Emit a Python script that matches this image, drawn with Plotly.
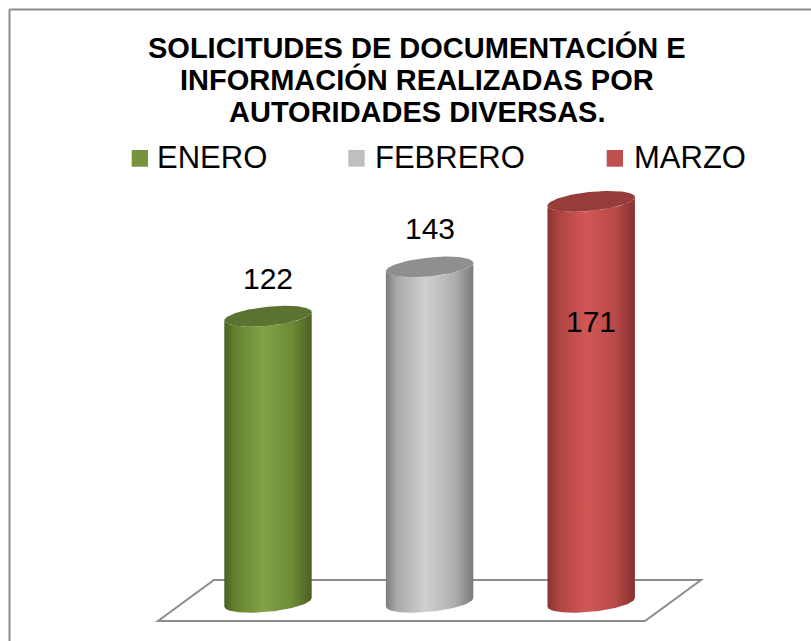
import numpy as np
import plotly.graph_objects as go

# ---- data ----
categories = ["ENERO", "FEBRERO", "MARZO"]
values = [122, 143, 171]
title_lines = ["SOLICITUDES DE DOCUMENTACIÓN E",
               "INFORMACIÓN REALIZADAS POR",
               "AUTORIDADES DIVERSAS."]

# ---- styles ----
legend_colors = ["#77933C", "#BFBFBF", "#C0504D"]
body_scales = [
    [[0, "#4b6024"], [0.12, "#64802f"], [0.45, "#84a347"], [0.78, "#6d8a36"], [1, "#4b6024"]],
    [[0, "#7c7c7c"], [0.12, "#a8a8a8"], [0.45, "#d0d0d0"], [0.78, "#b0b0b0"], [1, "#7a7a7a"]],
    [[0, "#883230"], [0.12, "#ac4442"], [0.45, "#d25755"], [0.78, "#b74a48"], [1, "#863130"]],
]
top_colors = ["#5a7330", "#8f8f8f", "#963c3a"]

W, H = 811, 641
# pixel anchors of the category scale / value scale
X0_PX, DX_PX = 268.0, 161.6      # pixel of first category, pixel per category
Y0_PX, DY_PX = 602.3, 2.345      # pixel of value 0, pixel per unit

def px_to_x(px):
    return (px - X0_PX) / DX_PX

def py_to_y(py):
    return (Y0_PX - py) / DY_PX

A = 43.7 / DX_PX   # cylinder radius (x units)
B = 9.5 / DY_PX    # ellipse half-height (y units)
K = 4.2 / DY_PX    # ellipse tilt (y units)

fig = go.Figure()

n = 80
for i, (cat, v) in enumerate(zip(categories, values)):
    tb = np.linspace(np.pi, 2 * np.pi, n)
    tt = np.linspace(2 * np.pi, np.pi, n)
    xs = np.concatenate([i + A * np.cos(tb), i + A * np.cos(tt)])
    ys = np.concatenate([B * np.sin(tb) + K * np.cos(tb),
                         v + B * np.sin(tt) + K * np.cos(tt)])
    fig.add_trace(go.Scatter(
        x=xs, y=ys, mode="lines", fill="toself",
        line=dict(width=0, color=legend_colors[i]),
        fillgradient=dict(type="horizontal", colorscale=body_scales[i]),
        name=cat, showlegend=False, hoverinfo="skip"))
    tc = np.linspace(0, 2 * np.pi, 2 * n)
    fig.add_trace(go.Scatter(
        x=i + A * np.cos(tc), y=v + B * np.sin(tc) + K * np.cos(tc),
        mode="lines", fill="toself",
        line=dict(width=0, color=top_colors[i]), fillcolor=top_colors[i],
        showlegend=False, hoverinfo="skip"))

# value labels
label_shift = [38, 38, -120]
for i, v in enumerate(values):
    fig.add_annotation(x=i, y=v, text=str(v), showarrow=False,
                       yshift=label_shift[i], yanchor="middle",
                       font=dict(size=30, color="#000000"))

# floor (3-D plot floor outline)
floor_px = [(158, 621), (645, 621), (701, 580), (214, 580), (158, 621)]
path = "M " + " L ".join(f"{px_to_x(a):.4f},{py_to_y(b):.4f}" for a, b in floor_px) + " Z"
fig.add_shape(type="path", path=path, xref="x", yref="y",
              line=dict(color="#8c8c8c", width=2), fillcolor="white", layer="below")

# chart border (top and left visible)
fig.add_shape(type="line", xref="paper", yref="paper",
              x0=9.5 / W, x1=1.0, y0=1 - 9.5 / H, y1=1 - 9.5 / H,
              line=dict(color="#8c8c8c", width=2))
fig.add_shape(type="line", xref="paper", yref="paper",
              x0=9.5 / W, x1=9.5 / W, y0=1 - 9.5 / H, y1=0,
              line=dict(color="#8c8c8c", width=2))

# title
for k, (line, cy) in enumerate(zip(title_lines, [47, 79.5, 112.5])):
    fig.add_annotation(xref="paper", yref="paper", x=417 / W, y=1 - cy / H,
                       text=f"<b>{line}</b>", showarrow=False,
                       xanchor="center", yanchor="middle",
                       font=dict(size=29, color="#000000",
                                 family="Liberation Sans, Arial, sans-serif"))

# legend (manual)
leg_sq_x = [131.7, 348.3, 606.7]
leg_txt_x = [155, 373, 631.5]
for i, cat in enumerate(categories):
    fig.add_shape(type="rect", xref="paper", yref="paper",
                  x0=leg_sq_x[i] / W, x1=(leg_sq_x[i] + 16.3) / W,
                  y0=1 - 166.7 / H, y1=1 - 150 / H,
                  line=dict(width=0), fillcolor=legend_colors[i])
    fig.add_annotation(xref="paper", yref="paper", x=leg_txt_x[i] / W, y=1 - 158 / H,
                       text=cat, showarrow=False, xanchor="left", yanchor="middle",
                       font=dict(size=31, color="#000000"))

fig.update_layout(
    width=W, height=H, autosize=False,
    margin=dict(l=0, r=0, t=0, b=0),
    paper_bgcolor="white", plot_bgcolor="white",
    font=dict(family="Liberation Sans, Arial, sans-serif"),
    xaxis=dict(range=[px_to_x(0), px_to_x(W)], visible=False, fixedrange=True),
    yaxis=dict(range=[py_to_y(H), py_to_y(0)], visible=False, fixedrange=True),
    showlegend=False,
    hovermode=False,
)

fig.write_html("out.html", config={"displayModeBar": False},
               post_script="document.body.style.margin='0';document.body.style.overflow='hidden';")
